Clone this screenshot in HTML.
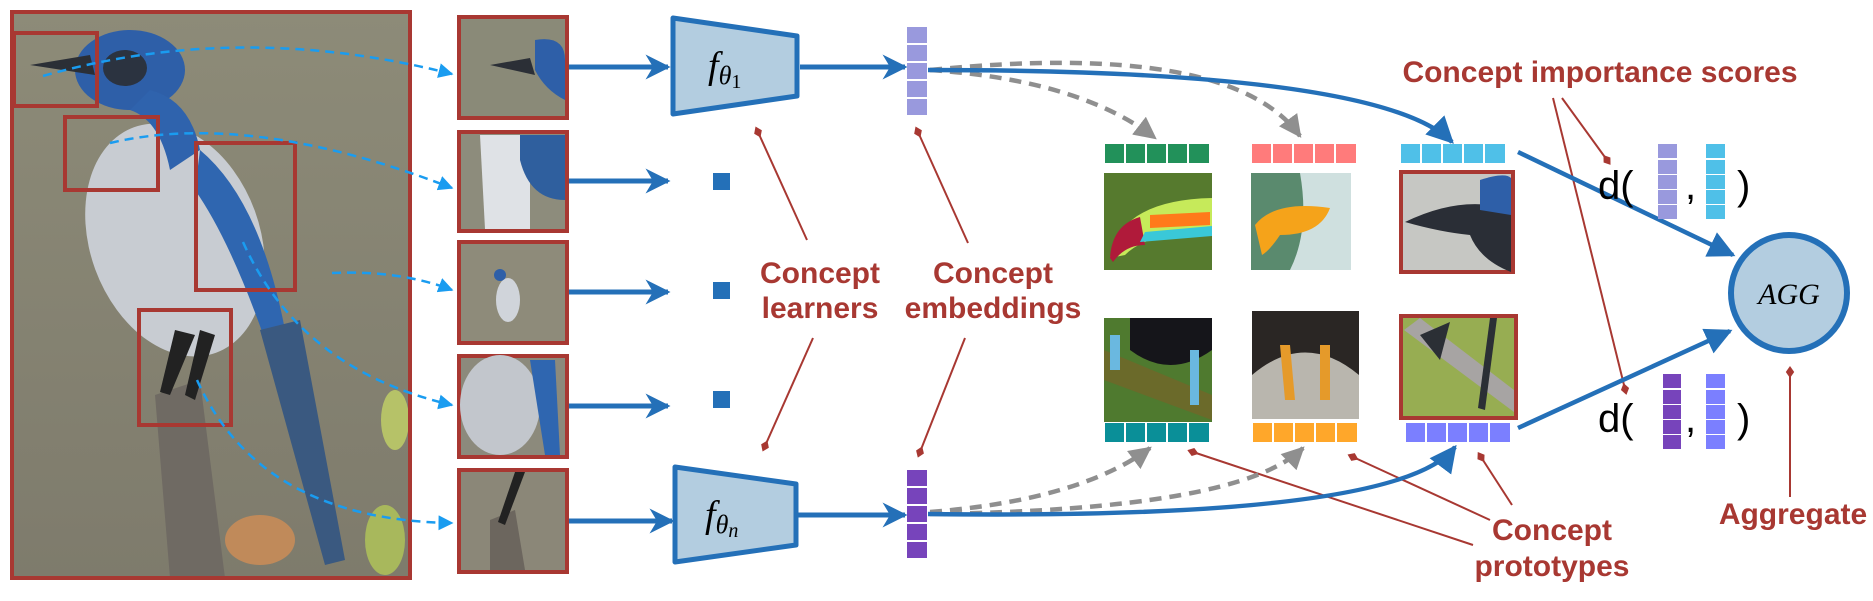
<!DOCTYPE html>
<html><head><meta charset="utf-8"><style>
html,body{margin:0;padding:0;background:#fff;}
svg{display:block;}
.lbl{font-family:"Liberation Sans",sans-serif;font-weight:bold;fill:#a83832;font-size:30px;}
.mth{font-family:"Liberation Serif",serif;font-style:italic;fill:#000;}
.dd{font-family:"Liberation Sans",sans-serif;fill:#000;font-size:40px;}
</style></head><body>
<svg width="1873" height="601" viewBox="0 0 1873 601" xmlns="http://www.w3.org/2000/svg">
<defs>
<marker id="ab" viewBox="0 0 10 10" refX="9" refY="5" markerWidth="5" markerHeight="5" orient="auto" markerUnits="strokeWidth"><path d="M0,0 L10,5 L0,10 L3,5z" fill="#2470b8"/></marker>
<marker id="ab2" viewBox="0 0 10 10" refX="9" refY="5" markerWidth="6" markerHeight="6" orient="auto" markerUnits="strokeWidth"><path d="M0,0 L10,5 L0,10 z" fill="#2470b8"/></marker>
<marker id="al" viewBox="0 0 10 10" refX="9" refY="5" markerWidth="6" markerHeight="6" orient="auto" markerUnits="strokeWidth"><path d="M0,0 L10,5 L0,10 z" fill="#1a9cf0"/></marker>
<marker id="ag" viewBox="0 0 10 10" refX="9" refY="5" markerWidth="5" markerHeight="5" orient="auto" markerUnits="strokeWidth"><path d="M0,0 L10,5 L0,10 z" fill="#8f8f8f"/></marker>
<marker id="dm" viewBox="0 0 10 10" refX="5" refY="5" markerWidth="6" markerHeight="6" orient="auto" markerUnits="strokeWidth"><path d="M0,5 L5,1.5 L10,5 L5,8.5z" fill="#a83832"/></marker>
<linearGradient id="bg1" x1="0" y1="0" x2="0" y2="1"><stop offset="0" stop-color="#8d8b78"/><stop offset="1" stop-color="#7e7b6c"/></linearGradient>
</defs>

<rect x="12" y="12" width="398" height="566" fill="url(#bg1)"/>
<ellipse cx="175" cy="240" rx="85" ry="120" fill="#c8ccd2" transform="rotate(-20 175 240)"/>
<ellipse cx="130" cy="70" rx="55" ry="40" fill="#2e5fa8"/>
<path d="M30,65 L90,55 L95,75 Z" fill="#2b2f36"/>
<ellipse cx="125" cy="68" rx="22" ry="18" fill="#2b3340"/>
<path d="M150,90 Q190,100 200,150 L170,170 Q160,120 130,110Z" fill="#2f63ad"/>
<path d="M200,150 Q260,200 285,330 L265,340 Q230,240 195,190Z" fill="#2f66b0"/>
<path d="M260,330 L300,320 L345,560 L325,565Z" fill="#3a5980"/>
<path d="M155,395 L200,380 L225,578 L170,578Z" fill="#6f6a63"/>
<path d="M175,330 L195,335 L170,395 L160,392Z" fill="#222"/>
<path d="M200,330 L215,335 L195,400 L185,395Z" fill="#222"/>
<ellipse cx="395" cy="420" rx="14" ry="30" fill="#b6c268"/>
<ellipse cx="260" cy="540" rx="35" ry="25" fill="#c08a5a"/>
<ellipse cx="385" cy="540" rx="20" ry="35" fill="#a8b85c"/>
<rect x="12" y="12" width="398" height="566" fill="none" stroke="#a83832" stroke-width="4"/>
<g fill="none" stroke="#a83832" stroke-width="4">
<rect x="14" y="33" width="83" height="73"/>
<rect x="65" y="117" width="93" height="73"/>
<rect x="196" y="143" width="99" height="147"/>
<rect x="139" y="310" width="92" height="115"/>
</g>
<g fill="none" stroke="#1a9cf0" stroke-width="2.5" stroke-dasharray="9,6" marker-end="url(#al)">
<path d="M43,76 Q240,20 452,74"/>
<path d="M110,143 Q250,110 452,188"/>
<path d="M332,273 Q400,270 452,290"/>
<path d="M243,242 Q300,370 452,405"/>
<path d="M197,380 Q260,520 452,523"/>
</g>

<g stroke="#a83832" stroke-width="4">
<rect x="459" y="17" width="108" height="101" fill="#8a8a78"/>
<rect x="459" y="132" width="108" height="99" fill="#8d8c7c"/>
<rect x="459" y="242" width="108" height="101" fill="#8e8b7a"/>
<rect x="459" y="356" width="108" height="101" fill="#8c8a7c"/>
<rect x="459" y="470" width="108" height="102" fill="#8b8778"/>
</g>
<path d="M490,65 L530,58 L535,75Z" fill="#2b2f36"/>
<path d="M535,40 Q565,35 565,60 L565,100 Q545,90 535,70Z" fill="#2e5fa8"/>
<path d="M480,135 L530,135 L530,229 L485,229Z" fill="#dfe2e6"/>
<path d="M520,135 L565,135 L565,200 Q530,200 520,160Z" fill="#2f5f9e"/>
<ellipse cx="508" cy="300" rx="12" ry="22" fill="#d0d4da"/>
<circle cx="500" cy="275" r="6" fill="#2e5fa8"/>
<ellipse cx="500" cy="405" rx="40" ry="50" fill="#c2c6cc"/>
<path d="M530,360 L555,360 L560,455 L545,455Z" fill="#2f66b0"/>
<path d="M490,520 L515,510 L525,570 L490,570Z" fill="#6c665e"/>
<path d="M515,472 L525,472 L505,525 L498,522Z" fill="#222"/>

<g stroke="#2470b8" stroke-width="5" fill="none" marker-end="url(#ab)">
<line x1="569" y1="67" x2="668" y2="67"/>
<line x1="569" y1="181" x2="668" y2="181"/>
<line x1="569" y1="292" x2="668" y2="292"/>
<line x1="569" y1="406" x2="668" y2="406"/>
<line x1="569" y1="521" x2="672" y2="521"/>
<line x1="800" y1="67" x2="905" y2="67"/>
<line x1="798" y1="515" x2="905" y2="515"/>
</g>
<polygon points="673,18 797,36 797,96 673,114" fill="#b3cde0" stroke="#2470b8" stroke-width="5" stroke-linejoin="round"/>
<polygon points="675,467 796,484 796,545 675,562" fill="#b3cde0" stroke="#2470b8" stroke-width="5" stroke-linejoin="round"/>
<text x="708" y="78" class="mth" font-size="38">f<tspan font-size="26" dy="6">θ</tspan><tspan font-size="20" dy="4" font-style="normal">1</tspan></text>
<text x="705" y="527" class="mth" font-size="38">f<tspan font-size="26" dy="6">θ</tspan><tspan font-size="20" dy="4">n</tspan></text>
<rect x="713" y="173" width="17" height="17" fill="#2470b8"/>
<rect x="713" y="282" width="17" height="17" fill="#2470b8"/>
<rect x="713" y="391" width="17" height="17" fill="#2470b8"/>

<g fill="#9999dd">
<rect x="907" y="27" width="20" height="16"/><rect x="907" y="45" width="20" height="16"/><rect x="907" y="63" width="20" height="16"/><rect x="907" y="81" width="20" height="16"/><rect x="907" y="99" width="20" height="16"/>
</g>
<g fill="#7744bb">
<rect x="907" y="470" width="20" height="16"/><rect x="907" y="488" width="20" height="16"/><rect x="907" y="506" width="20" height="16"/><rect x="907" y="524" width="20" height="16"/><rect x="907" y="542" width="20" height="16"/>
</g>

<g stroke="#a83832" stroke-width="2" fill="none">
<line x1="807" y1="240" x2="758" y2="132" marker-end="url(#dm)"/>
<line x1="813" y1="338" x2="765" y2="446" marker-end="url(#dm)"/>
<line x1="968" y1="243" x2="918" y2="132" marker-end="url(#dm)"/>
<line x1="965" y1="338" x2="920" y2="452" marker-end="url(#dm)"/>
<line x1="1473" y1="545" x2="1193" y2="452" marker-end="url(#dm)"/>
<line x1="1490" y1="520" x2="1353" y2="457" marker-end="url(#dm)"/>
<line x1="1512" y1="505" x2="1481" y2="457" marker-end="url(#dm)"/>
<line x1="1562" y1="98" x2="1607" y2="160" marker-end="url(#dm)"/>
<line x1="1553" y1="98" x2="1625" y2="389" marker-end="url(#dm)"/>
<line x1="1790" y1="497" x2="1790" y2="372" marker-end="url(#dm)"/>
</g>
<text x="820" y="283" class="lbl" text-anchor="middle">Concept</text>
<text x="820" y="318" class="lbl" text-anchor="middle">learners</text>
<text x="993" y="283" class="lbl" text-anchor="middle">Concept</text>
<text x="993" y="318" class="lbl" text-anchor="middle">embeddings</text>
<text x="1552" y="540" class="lbl" text-anchor="middle">Concept</text>
<text x="1552" y="576" class="lbl" text-anchor="middle">prototypes</text>
<text x="1600" y="82" class="lbl" text-anchor="middle">Concept importance scores</text>
<text x="1793" y="524" class="lbl" text-anchor="middle">Aggregate</text>

<g>
<g fill="#22915a"><rect x="1105" y="144" width="19" height="19"/><rect x="1126" y="144" width="19" height="19"/><rect x="1147" y="144" width="19" height="19"/><rect x="1168" y="144" width="19" height="19"/><rect x="1189" y="144" width="20" height="19"/></g>
<g fill="#ff7b7b"><rect x="1252" y="144" width="19" height="19"/><rect x="1273" y="144" width="19" height="19"/><rect x="1294" y="144" width="19" height="19"/><rect x="1315" y="144" width="19" height="19"/><rect x="1336" y="144" width="20" height="19"/></g>
<g fill="#4fc0e8"><rect x="1401" y="144" width="19" height="19"/><rect x="1422" y="144" width="19" height="19"/><rect x="1443" y="144" width="19" height="19"/><rect x="1464" y="144" width="19" height="19"/><rect x="1485" y="144" width="20" height="19"/></g>
<g fill="#0a8f98"><rect x="1105" y="423" width="19" height="19"/><rect x="1126" y="423" width="19" height="19"/><rect x="1147" y="423" width="19" height="19"/><rect x="1168" y="423" width="19" height="19"/><rect x="1189" y="423" width="20" height="19"/></g>
<g fill="#ffa72a"><rect x="1253" y="423" width="19" height="19"/><rect x="1274" y="423" width="19" height="19"/><rect x="1295" y="423" width="19" height="19"/><rect x="1316" y="423" width="19" height="19"/><rect x="1337" y="423" width="20" height="19"/></g>
<g fill="#7b7fff"><rect x="1406" y="423" width="19" height="19"/><rect x="1427" y="423" width="19" height="19"/><rect x="1448" y="423" width="19" height="19"/><rect x="1469" y="423" width="19" height="19"/><rect x="1490" y="423" width="20" height="19"/></g>
</g>

<rect x="1104" y="173" width="108" height="97" fill="#567a2e"/>
<path d="M1110,258 Q1120,200 1212,198 L1212,235 Q1150,230 1125,255Z" fill="#c6ea5a"/>
<path d="M1110,258 Q1112,225 1140,217 L1145,245 Q1125,245 1113,262Z" fill="#b01a3a"/>
<path d="M1150,215 L1210,212 L1210,225 L1150,228Z" fill="#ff7a1a"/>
<path d="M1145,232 L1212,226 L1212,236 L1140,242Z" fill="#3ac8d8"/>
<rect x="1251" y="173" width="100" height="97" fill="#5a8a6e"/>
<path d="M1300,173 L1351,173 L1351,270 L1290,270 Q1310,230 1300,173Z" fill="#cfe0df"/>
<path d="M1255,225 Q1275,200 1330,208 Q1320,235 1280,235 Q1270,250 1262,255Z" fill="#f5a31a"/>
<rect x="1401" y="172" width="112" height="100" fill="#c6c7c3" stroke="#a83832" stroke-width="4"/>
<path d="M1405,222 Q1450,200 1490,205 L1511,200 L1511,272 Q1480,260 1470,235 Q1440,232 1405,222Z" fill="#2a2e36"/>
<path d="M1480,180 Q1505,172 1511,178 L1511,215 L1480,210Z" fill="#2e5fa8"/>
<rect x="1104" y="318" width="108" height="104" fill="#4f7a2f"/>
<path d="M1130,318 L1212,318 L1212,350 Q1170,380 1130,350Z" fill="#15151a"/>
<path d="M1104,350 L1212,395 L1212,420 L1104,380Z" fill="#6b6a2a"/>
<rect x="1110" y="335" width="10" height="35" fill="#6ab8e0"/>
<rect x="1190" y="350" width="9" height="55" fill="#6ab8e0"/>
<rect x="1252" y="311" width="107" height="108" fill="#2a2624"/>
<path d="M1252,375 Q1305,330 1359,375 L1359,419 L1252,419Z" fill="#b9b6ae"/>
<path d="M1280,345 L1290,345 L1295,400 L1285,400Z M1320,345 L1330,345 L1330,400 L1320,400Z" fill="#e59a2a"/>
<rect x="1401" y="316" width="115" height="102" fill="#97ad52" stroke="#a83832" stroke-width="4"/>
<path d="M1404,330 L1420,318 L1514,390 L1514,412 Z" fill="#a7a4a3"/>
<path d="M1490,318 L1497,318 L1485,410 L1478,408Z" fill="#2b2f35"/>
<path d="M1420,335 L1450,322 L1440,360Z" fill="#2b2f35"/>

<g fill="none" stroke="#8f8f8f" stroke-width="4.5" stroke-dasharray="12,8" marker-end="url(#ag)">
<path d="M930,70 Q1080,80 1155,138"/>
<path d="M930,70 Q1230,40 1300,136"/>
<path d="M930,512 Q1080,500 1150,448"/>
<path d="M930,514 Q1240,510 1303,448"/>
</g>
<g fill="none" stroke="#2470b8" stroke-width="4.5" marker-end="url(#ab2)">
<path d="M928,70 Q1380,70 1452,142"/>
<path d="M928,514 Q1400,520 1455,447"/>
<line x1="1518" y1="152" x2="1733" y2="255"/>
<line x1="1518" y1="428" x2="1730" y2="331"/>
</g>

<circle cx="1789" cy="293" r="58" fill="#b3cde0" stroke="#2470b8" stroke-width="6"/>
<text x="1789" y="304" class="mth" font-size="30" text-anchor="middle">AGG</text>

<text x="1598" y="199" class="dd">d(</text>
<g fill="#9999dd"><rect x="1658" y="144" width="19" height="14"/><rect x="1658" y="160" width="19" height="14"/><rect x="1658" y="175" width="19" height="14"/><rect x="1658" y="190" width="19" height="14"/><rect x="1658" y="205" width="19" height="14"/></g>
<text x="1685" y="199" class="dd">,</text>
<g fill="#4fc0e8"><rect x="1706" y="144" width="19" height="14"/><rect x="1706" y="160" width="19" height="14"/><rect x="1706" y="175" width="19" height="14"/><rect x="1706" y="190" width="19" height="14"/><rect x="1706" y="205" width="19" height="14"/></g>
<text x="1737" y="199" class="dd">)</text>

<text x="1598" y="432" class="dd">d(</text>
<g fill="#7744bb"><rect x="1663" y="374" width="18" height="14"/><rect x="1663" y="390" width="18" height="14"/><rect x="1663" y="405" width="18" height="14"/><rect x="1663" y="420" width="18" height="14"/><rect x="1663" y="435" width="18" height="14"/></g>
<text x="1685" y="432" class="dd">,</text>
<g fill="#7b7fff"><rect x="1706" y="374" width="19" height="14"/><rect x="1706" y="390" width="19" height="14"/><rect x="1706" y="405" width="19" height="14"/><rect x="1706" y="420" width="19" height="14"/><rect x="1706" y="435" width="19" height="14"/></g>
<text x="1737" y="432" class="dd">)</text>
</svg>
</body></html>
